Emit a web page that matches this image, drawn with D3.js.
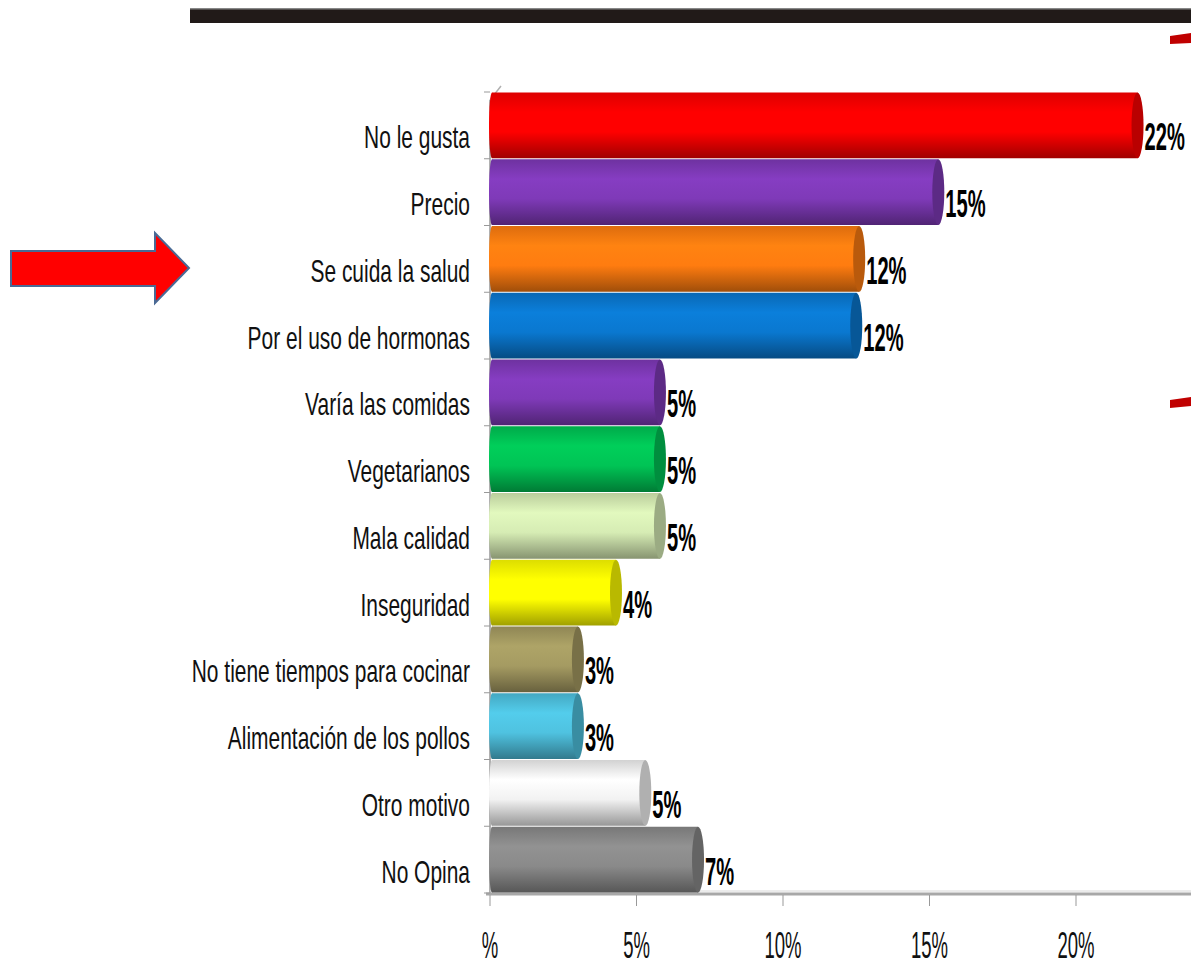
<!DOCTYPE html>
<html>
<head>
<meta charset="utf-8">
<script src="https://cdn.jsdelivr.net/npm/d3@7"></script>
<style>
  body { margin: 0; background: #fff; }
  text { font-family: "Liberation Sans", Arial, sans-serif; }
</style>
</head>
<body>
<svg width="1191" height="967"></svg>
<script>
var categories = ['No le gusta', 'Precio', 'Se cuida la salud', 'Por el uso de hormonas',
  'Varía las comidas', 'Vegetarianos', 'Mala calidad', 'Inseguridad',
  'No tiene tiempos para cocinar', 'Alimentación de los pollos', 'Otro motivo', 'No Opina']
var values = [22.1, 15.3, 12.6, 12.5, 5.8, 5.8, 5.8, 4.3, 3.0, 3.0, 5.3, 7.1]
var valueLabels = ['22%', '15%', '12%', '12%', '5%', '5%', '5%', '4%', '3%', '3%', '5%', '7%']
var colors = ['#ff0000', '#7f3ab8', '#ff7c10', '#0a78d0', '#7f3ab8', '#00c455',
  '#d6ecb4', '#ffff00', '#a59b62', '#4fc2e0', '#f2f2f2', '#8a8a8a']
var ticks = [0, 5, 10, 15, 20]
var tickLabels = ['%', '5%', '10%', '15%', '20%']

var svg = d3.select('svg')
var defs = svg.append('defs')

var x = d3.scaleLinear().domain([0, 20]).range([490, 1076])
var y = d3.scaleBand().domain(categories).range([92, 893]).padding(0)

// top dark rule and red marks at right edge
svg.append('rect').attr('x', 190).attr('y', 9).attr('width', 1001).attr('height', 14).attr('fill', '#211a18')
svg.append('rect').attr('x', 190).attr('y', 8).attr('width', 1001).attr('height', 1.5).attr('fill', '#888')
svg.append('path').attr('d', 'M1170,36 L1191,33 L1191,43 L1170,44 Z').attr('fill', '#c00000')
svg.append('path').attr('d', 'M1170,400 L1191,397 L1191,406 L1170,408 Z').attr('fill', '#c00000')

// arrow
svg.append('path')
  .attr('d', 'M11,251 L155,251 L155,233 L189,268 L155,303 L155,286 L11,286 Z')
  .attr('fill', '#ff0000').attr('stroke', '#4a6a95').attr('stroke-width', 2)

// axes frame (3D wall/floor edges)
svg.append('line').attr('x1', 490).attr('x2', 490).attr('y1', 100).attr('y2', 893)
  .attr('stroke', '#b0b0b0').attr('stroke-width', 2)
svg.append('line').attr('x1', 490).attr('x2', 501).attr('y1', 100).attr('y2', 86)
  .attr('stroke', '#b0b0b0').attr('stroke-width', 1.5)
svg.append('line').attr('x1', 486).attr('x2', 1191).attr('y1', 894).attr('y2', 894)
  .attr('stroke', '#a8a8a8').attr('stroke-width', 3)
svg.append('line').attr('x1', 490).attr('x2', 1191).attr('y1', 891).attr('y2', 891)
  .attr('stroke', '#d8d8d8').attr('stroke-width', 1)

// left tick marks at band edges
svg.selectAll('.ytick')
  .data(categories.concat(['_end']))
  .enter()
  .append('line')
  .attr('x1', 484).attr('x2', 490)
  .attr('y1', function (d, i) { return i < categories.length ? y(d) : y.range()[1] })
  .attr('y2', function (d, i) { return i < categories.length ? y(d) : y.range()[1] })
  .attr('stroke', '#999')

// bottom ticks
svg.selectAll('.xtick')
  .data(ticks)
  .enter()
  .append('line')
  .attr('x1', function (d) { return x(d) }).attr('x2', function (d) { return x(d) })
  .attr('y1', 895).attr('y2', 906)
  .attr('stroke', '#999')

// tick labels (narrow look via horizontal scaling)
svg.selectAll('.xlabel')
  .data(ticks)
  .enter()
  .append('text')
  .attr('transform', function (d) { return 'translate(' + x(d) + ',958) scale(0.5,1)' })
  .attr('text-anchor', 'middle')
  .attr('font-size', 37)
  .attr('fill', '#111')
  .text(function (d, i) { return tickLabels[i] })

// gradients per bar
colors.forEach(function (c, i) {
  var base = d3.color(c)
  var g = defs.append('linearGradient').attr('id', 'g' + i)
    .attr('x1', 0).attr('y1', 0).attr('x2', 0).attr('y2', 1)
  g.append('stop').attr('offset', '0%').attr('stop-color', base.darker(0.4))
  g.append('stop').attr('offset', '30%').attr('stop-color', base.brighter(0.15))
  g.append('stop').attr('offset', '60%').attr('stop-color', base)
  g.append('stop').attr('offset', '100%').attr('stop-color', base.darker(1.3))
})

var bars = svg.selectAll('.bar')
  .data(categories)
  .enter()
  .append('g')
  .attr('class', 'bar')

var h = y.bandwidth() - 1

bars.append('rect')
  .attr('x', x(0) + 2)
  .attr('y', function (d) { return y(d) + 0.5 })
  .attr('width', function (d, i) { return x(values[i]) - x(0) - 2 })
  .attr('height', h)
  .attr('fill', function (d, i) { return 'url(#g' + i + ')' })

bars.append('ellipse')
  .attr('cx', x(0) + 2)
  .attr('cy', function (d) { return y(d) + 0.5 + h / 2 })
  .attr('rx', 3).attr('ry', h / 2)
  .attr('fill', function (d, i) { return 'url(#g' + i + ')' })

bars.append('ellipse')
  .attr('cx', function (d, i) { return x(values[i]) })
  .attr('cy', function (d) { return y(d) + 0.5 + h / 2 })
  .attr('rx', 6).attr('ry', h / 2)
  .attr('fill', function (d, i) { return d3.color(colors[i]).darker(0.9) })

bars.append('text')
  .attr('transform', function (d) {
    return 'translate(470,' + (y(d) + y.bandwidth() / 2 + 23) + ') scale(0.655,1)'
  })
  .attr('text-anchor', 'end')
  .attr('font-size', 32)
  .attr('fill', '#111')
  .text(function (d) { return d })

bars.append('text')
  .attr('transform', function (d, i) {
    return 'translate(' + (x(values[i]) + 7) + ',' + (y(d) + y.bandwidth() / 2 + 25) + ') scale(0.53,1)'
  })
  .attr('font-size', 38)
  .attr('font-weight', 'bold')
  .attr('fill', '#000')
  .attr('stroke', '#fff').attr('stroke-width', 0.8).attr('paint-order', 'stroke')
  .text(function (d, i) { return valueLabels[i] })
</script>
</body>
</html>
